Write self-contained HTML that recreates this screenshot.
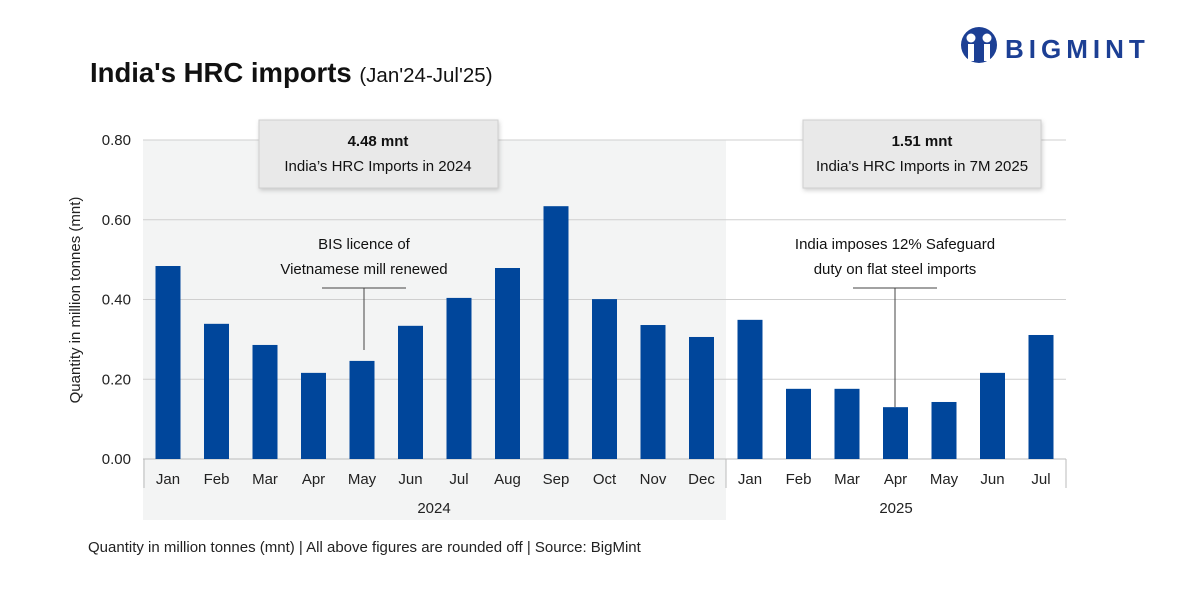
<!DOCTYPE html>
<html><head><meta charset="utf-8"><style>
body{margin:0;background:#fff;}
svg text{font-family:"Liberation Sans",sans-serif;}
</style></head><body>
<svg width="1200" height="600" viewBox="0 0 1200 600" xmlns="http://www.w3.org/2000/svg">
<defs><filter id="sh" x="-10%" y="-10%" width="130%" height="140%"><feDropShadow dx="1" dy="2" stdDeviation="2" flood-color="#000" flood-opacity="0.18"/></filter></defs>
<rect x="143" y="140" width="583" height="380" fill="#f3f4f4"/>
<text x="90" y="82" font-size="27.5" font-weight="bold" fill="#111">India's HRC imports <tspan font-weight="normal" font-size="20.5">(Jan'24-Jul'25)</tspan></text>
<g>
<circle cx="979" cy="45" r="18" fill="#1c3f94"/>
<circle cx="971" cy="38" r="4.5" fill="#fff"/><circle cx="987" cy="38" r="4.5" fill="#fff"/>
<rect x="968" y="44" width="6" height="17" fill="#fff"/><rect x="984" y="44" width="6" height="17" fill="#fff"/>
<text x="1005" y="58" font-size="26" font-weight="bold" fill="#1c3f94" letter-spacing="5">BIGMINT</text>
</g>
<g id="grid"></g>
<g id="bars"></g>
<g id="labels"></g>
<text transform="translate(80,300) rotate(-90)" text-anchor="middle" font-size="15" fill="#222">Quantity in million tonnes (mnt)</text>
<line x1="144" y1="459" x2="144" y2="488" stroke="#bbb"/>
<line x1="726" y1="459" x2="726" y2="488" stroke="#bbb"/>
<line x1="1066" y1="459" x2="1066" y2="488" stroke="#bbb"/>
<text x="434" y="513" text-anchor="middle" font-size="15" fill="#222">2024</text>
<text x="896" y="513" text-anchor="middle" font-size="15" fill="#222">2025</text>
<g>
<rect x="259" y="120" width="239" height="68" fill="#e9e9e9" stroke="#d0d0d0" filter="url(#sh)"/>
<text x="378" y="146" text-anchor="middle" font-size="15" font-weight="bold" fill="#111">4.48 mnt</text>
<text x="378" y="171" text-anchor="middle" font-size="15" fill="#111">India’s HRC Imports in 2024</text></g>
<g>
<rect x="803" y="120" width="238" height="68" fill="#e9e9e9" stroke="#d0d0d0" filter="url(#sh)"/>
<text x="922" y="146" text-anchor="middle" font-size="15" font-weight="bold" fill="#111">1.51 mnt</text>
<text x="922" y="171" text-anchor="middle" font-size="15" fill="#111">India's HRC Imports in 7M 2025</text></g>
<g>
<text x="364" y="249" text-anchor="middle" font-size="15" fill="#111">BIS licence of</text>
<text x="364" y="274" text-anchor="middle" font-size="15" fill="#111">Vietnamese mill renewed</text>
<line x1="322" y1="288" x2="406" y2="288" stroke="#444"/><line x1="364" y1="288" x2="364" y2="350" stroke="#444"/></g>
<g>
<text x="895" y="249" text-anchor="middle" font-size="15" fill="#111">India imposes 12% Safeguard</text>
<text x="895" y="274" text-anchor="middle" font-size="15" fill="#111">duty on flat steel imports</text>
<line x1="853" y1="288" x2="937" y2="288" stroke="#444"/><line x1="895" y1="288" x2="895" y2="407" stroke="#444"/></g>
<text x="88" y="552" font-size="15" fill="#222">Quantity in million tonnes (mnt) | All above figures are rounded off | Source: BigMint</text>
</svg>
<script>
const months=["Jan","Feb","Mar","Apr","May","Jun","Jul","Aug","Sep","Oct","Nov","Dec","Jan","Feb","Mar","Apr","May","Jun","Jul"];
const values=[0.484,0.339,0.286,0.216,0.246,0.334,0.404,0.479,0.634,0.401,0.336,0.306,0.349,0.176,0.176,0.130,0.143,0.216,0.311];
const yTicks=[0,0.2,0.4,0.6,0.8];
const NS="http://www.w3.org/2000/svg";
const y=v=>459-v*398.75;
const x=i=>168+i*48.5;
function mk(t,a,p){const e=document.createElementNS(NS,t);for(const k in a)e.setAttribute(k,a[k]);p.appendChild(e);return e;}
const g=document.getElementById('grid'),b=document.getElementById('bars'),l=document.getElementById('labels');
yTicks.forEach(v=>{
 const ln=mk('line',{x1:143,x2:1066,y1:y(v),y2:y(v),stroke:v===0?'#bbb':'#cfcfcf'},g);
 
 
 const t=mk('text',{x:131,y:y(v)+5,'text-anchor':'end','font-size':15,fill:'#222'},g);t.textContent=v.toFixed(2);
 
 
});
values.forEach((v,i)=>{
 const r=mk('rect',{x:x(i)-12.5,y:y(v),width:25,height:459-y(v),fill:'#00469b'},b);
 
 
 const t=mk('text',{x:x(i),y:484,'text-anchor':'middle','font-size':15,fill:'#222'},l);t.textContent=months[i];
 
 
});
</script>
</body></html>
